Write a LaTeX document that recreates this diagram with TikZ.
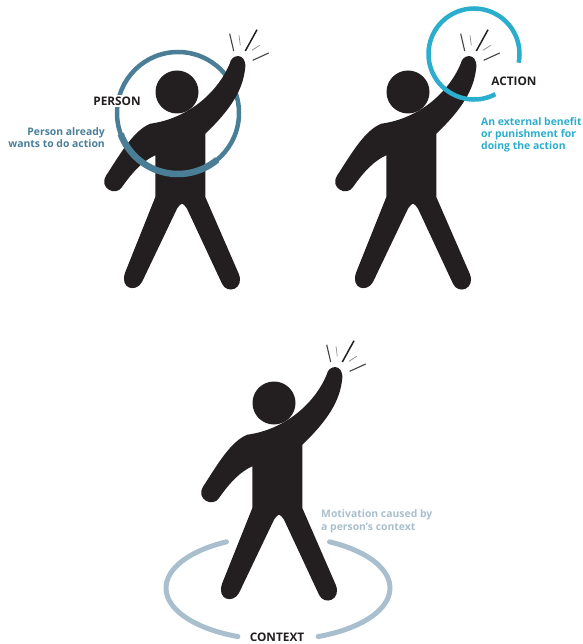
\documentclass[tikz,border=0pt]{standalone}
\usepackage{fontspec}
\setmainfont{Open Sans}
\usetikzlibrary{positioning}

\definecolor{figblack}{HTML}{231F20}
\definecolor{personblue}{HTML}{4A7E96}
\definecolor{actionblue}{HTML}{2BADCD}
\definecolor{contextblue}{HTML}{A9BFCD}

\tikzset{
  ringlabel/.style={fill=white, inner sep=1.5pt, text=figblack, font=\bfseries\fontsize{11.8}{13}\selectfont},
  note/.style={inner sep=0pt, font=\bfseries\fontsize{10.4}{12.4}\selectfont},
  stickman/.pic={
    % Head
    \node[circle, fill=figblack, inner sep=0pt, minimum size=43pt] (head) at (0, 0) {};
    % Body with both arms and legs
    \fill[figblack] (-26.7, 31.7) .. controls (10, 26.7) and (40, 1.7) .. (52.7, -28.3)
      .. controls (54, -38) and (69, -40) .. (68.3, -25)
      .. controls (66.7, -8.3) and (60, 11.7) .. (28.3, 41.7)
      -- (28.3, 105) -- (61.7, 181.7)
      .. controls (68, 197) and (50, 203) .. (45, 191.7)
      -- (10, 116.7) .. controls (5, 110) .. (0, 116.7)
      -- (-35, 190) .. controls (-41, 201) and (-58, 197) .. (-51.7, 180)
      -- (-21.7, 105) -- (-21.7, 63.3)
      .. controls (-33, 68.3) and (-43.3, 78.3) .. (-55, 95)
      .. controls (-61, 105) and (-79, 96) .. (-70.7, 83.3)
      .. controls (-56.7, 61.7) and (-43.3, 38.3) .. (-26.7, 31.7) -- cycle;
    % Burst lines over the hand
    \foreach \ax/\ay/\bx/\by/\wd/\tone in {56.7/-41/52.7/-58.3/1.1/85, 63.3/-46.7/62/-56.7/0.7/50,
        68.3/-41/80/-62.3/1.5/100, 75/-41.7/82.7/-46.7/0.8/50, 75.7/-31.7/91.7/-39/1.1/85} {
      \draw[figblack!\tone, line width=\wd pt] (\ax, \ay) -- (\bx, \by);
    }
  }
}

\begin{document}
\begin{tikzpicture}[x=1pt, y=-1pt]
  \useasboundingbox (0, 0) rectangle (582, 644);

  % Person figure, ring passes behind the raised arm
  \coordinate (personc) at (178, 113);
  \draw[personblue, line width=4.5pt] (personc) circle [radius=61pt];
  \pic (one) at (177, 92) {stickman};
  \draw[personblue, line width=6.5pt] ([shift={(160:61)}] personc) arc [start angle=-160, end angle=-50, radius=61pt];
  \node[ringlabel] (person) at (117, 101) {PERSON};
  \node[note, text=personblue, align=right, anchor=north east] (personnote) at (105, 127) {Person already\\wants to do action};

  % Action figure, ring passes in front of the raised arm
  \pic (two) at (408, 92) {stickman};
  \coordinate (actionc) at (474, 54);
  \draw[actionblue, line width=4.5pt] ([shift={(62:45.5)}] actionc) arc [start angle=-62, end angle=-371, radius=45.5pt];
  \node[ringlabel, fill=none] (action) at (514, 81) {ACTION};
  \node[note, text=actionblue, align=left, anchor=north west] (actionnote) at (481, 117) {An external benefit\\or punishment for\\doing the action};

  % Context figure with open ellipse on the ground
  \pic (three) at (274, 403) {stickman};
  \coordinate (contextc) at (278, 588);
  \draw[contextblue, line width=5pt, line cap=round] ([shift={(242.6:112 and 52)}] contextc)
    arc [start angle=117.4, end angle=249, x radius=112pt, y radius=52pt];
  \draw[contextblue, line width=5pt, line cap=round] ([shift={(-62.6:112 and 52)}] contextc)
    arc [start angle=62.6, end angle=-69, x radius=112pt, y radius=52pt];
  \node[ringlabel, fill=none] (context) at (277, 637) {CONTEXT};
  \node[note, text=contextblue, align=left, anchor=north west] (contextnote) at (321, 509.5) {Motivation caused by\\a person's context};
\end{tikzpicture}
\end{document}
